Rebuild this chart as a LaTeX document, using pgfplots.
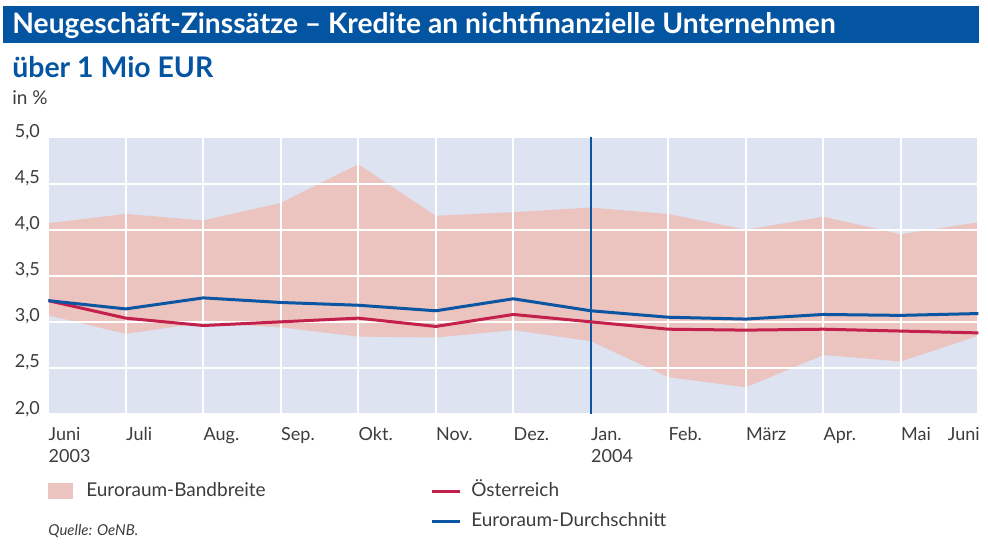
\documentclass[border=0pt]{standalone}
\usepackage{fontspec}
\setmainfont{Lato}
\usepackage{pgfplots}
\pgfplotsset{compat=1.18}
\usepgfplotslibrary{fillbetween}
\definecolor{bannerblue}{HTML}{0455A1}
\definecolor{bgblue}{HTML}{DDE3F1}
\definecolor{bandpink}{HTML}{EBC3BF}
\definecolor{atred}{HTML}{C3204B}
\definecolor{eublue}{HTML}{0A56A3}
\definecolor{txtgray}{HTML}{3C3C3C}
\begin{document}
\begin{tikzpicture}
\path (0pt,0pt) rectangle (494pt,276pt);
\fill[bannerblue] (1.5pt,254.5pt) rectangle (489.5pt,273pt);
\node[anchor=base west, inner sep=0pt, text=white, font=\fontsize{14.1}{16}\selectfont\bfseries] at (6pt,259.3pt) {Neugeschäft-Zinssätze – Kredite an nichtfinanzielle Unternehmen};
\node[anchor=base west, inner sep=0pt, text=bannerblue, font=\fontsize{14.2}{16}\selectfont\bfseries] at (6pt,237pt) {über 1 Mio EUR};
\node[anchor=base west, inner sep=0pt, text=txtgray, font=\fontsize{9.5}{11}\selectfont] at (6pt,223.5pt) {in \%};
\node[anchor=base west, inner sep=0pt, text=txtgray, font=\fontsize{7.5}{9}\selectfont\itshape] at (24pt,8.5pt) {Quelle: OeNB.};
\begin{axis}[
  at={(24.15pt,69pt)}, anchor=south west, scale only axis,
  width=465pt, height=138.25pt,
  xmin=0, xmax=12, ymin=2, ymax=5,
  set layers,
  axis background/.style={fill=bgblue},
  axis line style={draw=none},
  major tick length=0pt,
  xtick={0,...,12},
  xticklabels={{Juni\\2003},Juli,Aug.,Sep.,Okt.,Nov.,Dez.,{Jan.\\2004},Feb.,März,Apr.,Mai,{\llap{Juni}}},
  ytick={2,2.5,...,5},
  yticklabels={{2,0},{2,5},{3,0},{3,5},{4,0},{4,5},{5,0}},
  grid=major,
  major grid style={white, line width=1pt},
  xticklabel style={anchor=north west, inner sep=0pt, yshift=-6.5pt, align=left, font=\fontsize{9}{11}\selectfont, text=txtgray},
  yticklabel style={anchor=base east, inner sep=0pt, xshift=-4pt, font=\fontsize{9}{11}\selectfont, text=txtgray},
  legend columns=2,
  legend cell align=left,
  legend style={draw=none, fill=none, at={(0,0)}, anchor=north west, yshift=-34pt,
    inner sep=0pt, outer sep=0pt, row sep=6pt,
    font=\fontsize{9.5}{11}\selectfont, text=txtgray,
    nodes={inner sep=0pt, text height=7pt, text depth=2pt},
    /tikz/column 1/.style={column sep=6.5pt},
    /tikz/column 2/.style={column sep=12pt},
    /tikz/column 3/.style={column sep=5pt}},
]
\addplot[name path=U, draw=none, forget plot] coordinates {(0,4.07)(1,4.17)(2,4.10)(3,4.29)(4,4.71)(5,4.15)(6,4.19)(7,4.24)(8,4.17)(9,4.00)(10,4.14)(11,3.95)(12,4.08)};
\addplot[name path=L, draw=none, forget plot] coordinates {(0,3.07)(1,2.87)(2,2.99)(3,2.94)(4,2.84)(5,2.83)(6,2.91)(7,2.79)(8,2.40)(9,2.29)(10,2.64)(11,2.57)(12,2.85)};
\addplot[fill=bandpink, draw=none, legend image code/.code={\fill[bandpink] (0pt,-4pt) rectangle (12.5pt,4pt);}] fill between[of=U and L, on layer=axis background];
\addlegendentry{\makebox[160pt][l]{Euroraum-Bandbreite}}
\addplot[eublue, line width=0.8pt, forget plot] coordinates {(7,2) (7,5)};
\addplot[atred, line width=1.5pt, line join=round, legend image code/.code={\draw[atred, line width=1.5pt] (0pt,0pt) -- (14pt,0pt);}] coordinates {(0,3.23)(1,3.04)(2,2.96)(3,3.00)(4,3.04)(5,2.95)(6,3.08)(7,3.00)(8,2.92)(9,2.91)(10,2.92)(11,2.90)(12,2.88)};
\addlegendentry{Österreich}
\addlegendimage{draw=none, fill=none, legend image code/.code={\path[draw=none, fill=none] (0pt,0pt) rectangle (12.5pt,0pt);}}
\addlegendentry{\phantom{x}}
\addplot[eublue, line width=1.5pt, line join=round, legend image code/.code={\draw[eublue, line width=1.5pt] (0pt,0pt) -- (14pt,0pt);}] coordinates {(0,3.23)(1,3.14)(2,3.26)(3,3.21)(4,3.18)(5,3.12)(6,3.25)(7,3.12)(8,3.05)(9,3.03)(10,3.08)(11,3.07)(12,3.09)};
\addlegendentry{Euroraum-Durchschnitt}
\end{axis}
\end{tikzpicture}
\end{document}
